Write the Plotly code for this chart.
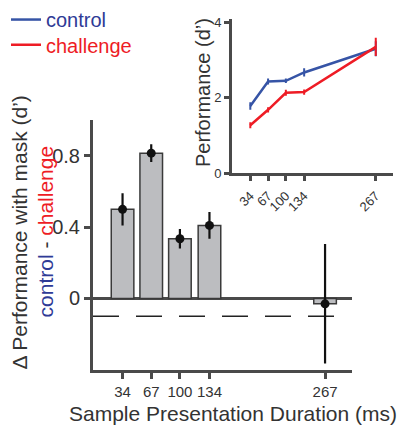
import plotly.graph_objects as go

# ---- data ----
durations = [34, 67, 100, 134, 267]
tick_labels = ["34", "67", "100", "134", "267"]

diff_values = [0.50, 0.815, 0.335, 0.41, -0.03]
diff_errors = [0.09, 0.05, 0.055, 0.075, 0.335]
chance_level = -0.10

control_values = [1.78, 2.43, 2.45, 2.67, 3.30]
control_errors = [0.10, 0.08, 0.06, 0.11, 0.20]
challenge_values = [1.27, 1.68, 2.13, 2.15, 3.35]
challenge_errors = [0.08, 0.07, 0.08, 0.07, 0.24]

BLUE = "#3654a6"
BLUE_TXT = "#2e3a96"
RED = "#ee1c25"
AX = "#4a4a4a"
TXT = "#333333"
FONT = "Liberation Sans, Arial, sans-serif"

fig = go.Figure()

fig.add_trace(go.Bar(
    x=durations, y=diff_values, width=26,
    marker=dict(color="#bcbdc0", line=dict(color="#3a3a3a", width=1.5)),
    showlegend=False, xaxis="x", yaxis="y",
))
fig.add_trace(go.Scatter(
    x=[0, 278], y=[chance_level, chance_level], mode="lines",
    line=dict(color="#222222", width=1.5, dash="26px,17px"),
    showlegend=False, xaxis="x", yaxis="y",
))
fig.add_trace(go.Scatter(
    x=durations, y=diff_values, mode="markers",
    marker=dict(color="#111111", size=9),
    error_y=dict(type="data", array=diff_errors, color="#111111", thickness=2.2, width=0),
    showlegend=False, xaxis="x", yaxis="y",
))
fig.add_trace(go.Scatter(
    x=durations, y=control_values, mode="lines",
    name=f"<span style='color:{BLUE_TXT}'>control</span>",
    line=dict(color=BLUE, width=2.5),
    error_y=dict(type="data", array=control_errors, color=BLUE, thickness=2, width=0),
    xaxis="x2", yaxis="y2", legend="legend",
))
fig.add_trace(go.Scatter(
    x=durations, y=challenge_values, mode="lines",
    name=f"<span style='color:{RED}'>challenge</span>",
    line=dict(color=RED, width=2.5),
    error_y=dict(type="data", array=challenge_errors, color=RED, thickness=2, width=0),
    xaxis="x2", yaxis="y2", legend="legend2",
))

W, H = 402, 432
def px(xp):
    return xp / W
def py(yp):
    return (H - yp) / H

leg_common = dict(xanchor="left", yanchor="middle", bgcolor="rgba(0,0,0,0)",
                  font=dict(size=20, family=FONT), itemwidth=30)

def ann(text, x, y, size, angle=0):
    return dict(text=text, x=px(x), y=py(y), xref="paper", yref="paper",
                xanchor="center", yanchor="middle", textangle=angle,
                showarrow=False, font=dict(size=size, color=TXT, family=FONT))

fig.update_layout(
    width=W, height=H,
    margin=dict(l=0, r=0, t=0, b=0),
    paper_bgcolor="white", plot_bgcolor="rgba(0,0,0,0)",
    font=dict(family=FONT, color=TXT),
    xaxis=dict(
        domain=[px(93), px(352)], range=[0, 298],
        tickvals=durations, ticktext=tick_labels,
        showline=True, linecolor=AX, linewidth=3,
        ticks="outside", ticklen=6, tickwidth=2.5, tickcolor=AX,
        showgrid=False, zeroline=False,
        tickfont=dict(size=15, color=TXT), anchor="y",
    ),
    yaxis=dict(
        domain=[py(376), py(118)], range=[-0.4, 1.0],
        tickvals=[0, 0.4, 0.8], ticktext=["0", "0.4", "0.8"],
        showline=True, linecolor=AX, linewidth=3,
        ticks="outside", ticklen=6, tickwidth=2.5, tickcolor=AX,
        showgrid=False, zeroline=True, zerolinecolor=AX, zerolinewidth=2.5,
        tickfont=dict(size=20, color=TXT), anchor="x",
    ),
    xaxis2=dict(
        domain=[px(232), px(393)], range=[0, 299],
        tickvals=durations, ticktext=tick_labels, tickangle=-45,
        showline=True, linecolor=AX, linewidth=3,
        ticks="outside", ticklen=5, tickwidth=2.5, tickcolor=AX,
        showgrid=False, zeroline=False, ticklabelstandoff=2,
        tickfont=dict(size=13, color=TXT), anchor="y2",
    ),
    yaxis2=dict(
        domain=[py(172.7), py(13)], range=[0, 4.1],
        tickvals=[0, 2, 4], ticktext=["0", "2", "4"],
        showline=True, linecolor=AX, linewidth=3,
        ticks="outside", ticklen=5, tickwidth=2.5, tickcolor=AX,
        showgrid=False, zeroline=False,
        tickfont=dict(size=13, color=TXT), anchor="x2",
    ),
    legend=dict(x=px(6), y=py(14), **leg_common),
    legend2=dict(x=px(6), y=py(40), **leg_common),
    annotations=[
        ann("Δ Performance with mask (d’)", 19, 234, 21, -90),
        ann(f"<span style='color:{BLUE_TXT}'>control</span> - <span style='color:{RED}'>challenge</span>",
            45, 233, 21, -90),
        ann("Sample Presentation Duration (ms)", 233, 421.5, 21),
        ann("Performance (d’)", 203, 90, 20, -90),
    ],
)

fig.write_html("out.html")
